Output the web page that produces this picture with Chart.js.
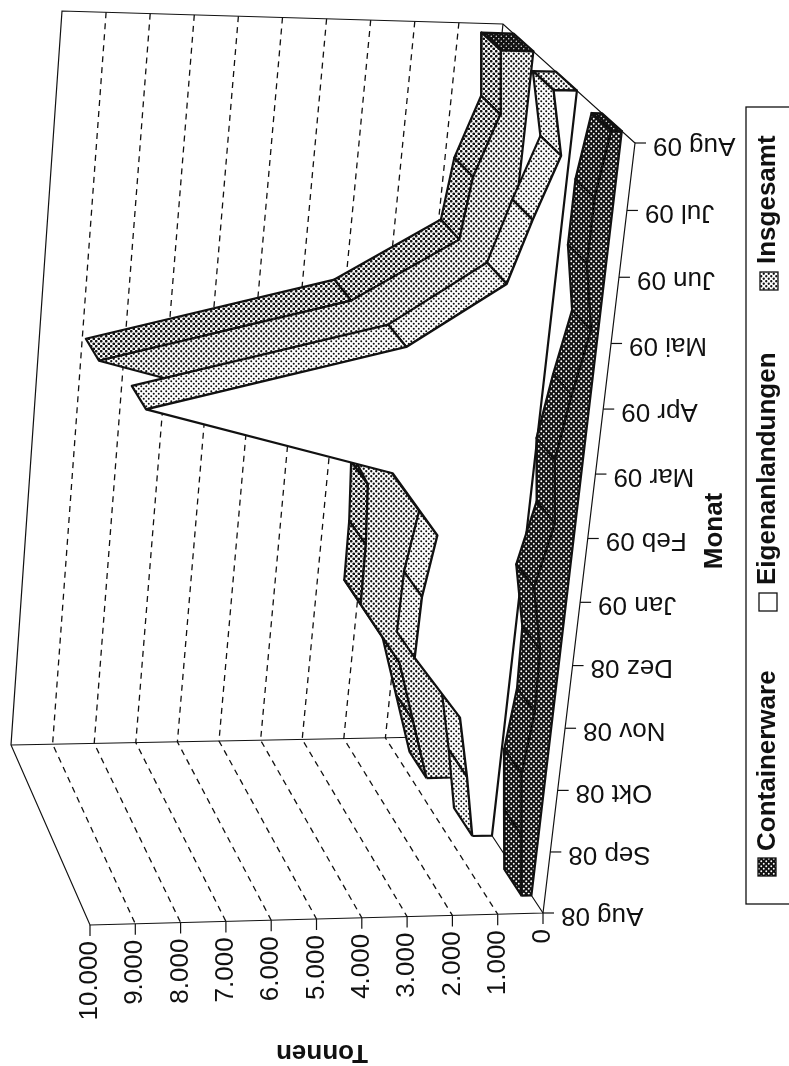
<!DOCTYPE html>
<html>
<head>
<meta charset="utf-8">
<style>
  html, body { margin: 0; padding: 0; background: #fff; }
  canvas { display: block; }
</style>
<script src="https://cdn.jsdelivr.net/npm/chart.js@4/dist/chart.umd.min.js"></script>
</head>
<body>
<canvas id="chart" width="789" height="1066"></canvas>
<script>
// --- data (tonnes per month) ---
const months = ['Aug 08', 'Sep 08', 'Okt 08', 'Nov 08', 'Dez 08', 'Jan 09', 'Feb 09', 'Mar 09', 'Apr 09', 'Mai 09', 'Jun 09', 'Jul 09', 'Aug 09'];
const containerware = [220, 380, 530, 400, 440, 730, 440, 600, 400, 150, 400, 400, 220];
const eigenanlandungen = [450, 720, 1030, 2200, 2180, 1980, 3120, 8700, 3100, 1050, 640, 180, 500];
const insgesamt = [640, 1100, 1560, 2600, 2620, 2710, 3560, 9100, 3500, 1200, 1040, 580, 720];
const valueTicks = [0, 1000, 2000, 3000, 4000, 5000, 6000, 7000, 8000, 9000, 10000];
const valueLabels = ['0', '1.000', '2.000', '3.000', '4.000', '5.000', '6.000', '7.000', '8.000', '9.000', '10.000'];
const legendLabels = ['Containerware', 'Eigenanlandungen', 'Insgesamt'];

// --- the tilted 3D box, as seen on the scanned page ---
const INK = '#111';
const VALUE_MAX = 10000;
const PERSPECTIVE = 1.056;
const corners = {
  m0v0d0: [543, 913], m0v1d0: [90, 925], m1v0d0: [635, 143], m1v1d0: [150, 134],
  m0v0d1: [427, 737], m0v1d1: [11, 745], m1v0d1: [503, 24], m1v1d1: [62, 11]
};
const DEPTH_CONT = [0.1, 0.25];
const DEPTH_EIG = [0.44, 0.6];
const DEPTH_INS = [0.77, 0.92];

function project(monthIdx, value, d) {
  const u = monthIdx / (months.length - 1);
  const m = u / (u + PERSPECTIVE * (1 - u));
  const v = value / VALUE_MAX;
  const out = { x: 0, y: 0 };
  [0, 1].forEach(a => [0, 1].forEach(b => [0, 1].forEach(c => {
    const w = (a ? m : 1 - m) * (b ? v : 1 - v) * (c ? d : 1 - d);
    const p = corners['m' + a + 'v' + b + 'd' + c];
    out.x += w * p[0];
    out.y += w * p[1];
  })));
  return out;
}

// halftone tiles like the printed shading
function halftone(bg, dot, r) {
  const c = document.createElement('canvas');
  c.width = 5; c.height = 5;
  const g = c.getContext('2d');
  g.fillStyle = bg;
  g.fillRect(0, 0, 5, 5);
  g.fillStyle = dot;
  [[1.25, 1.25], [3.75, 3.75], [-1.25, 3.75], [3.75, -1.25], [6.25, 3.75], [3.75, 6.25], [1.25, 6.25], [6.25, 1.25]].forEach(p => {
    g.beginPath();
    g.arc(p[0], p[1], r, 0, Math.PI * 2);
    g.fill();
  });
  return g.createPattern(c, 'repeat');
}
const DOT_DARK = halftone('#fff', '#111', 1.35);
const DOT_MID = halftone('#fff', '#111', 1.15);
const DOT_LIGHT = halftone('#fff', '#111', 1.0);
const DARK_FRONT = halftone('#111', '#fff', 1.05);
const DARK_TOP = halftone('#111', '#fff', 0.95);
const DARK_CAP = halftone('#111', '#fff', 0.7);

const datasets = [];

function addLine(points, style) {
  datasets.push(Object.assign({
    data: points, fill: false, borderColor: INK, borderWidth: 1.2,
    pointRadius: 0, tension: 0, clip: false, order: 1000 - datasets.length
  }, style));
}

function addFace(points, color, width) {
  addLine(points.concat([points[0]]), {
    fill: 'shape', backgroundColor: color, borderWidth: width, borderJoinStyle: 'round'
  });
}

// --- walls, floor edges, gridlines, ticks ---
const last = months.length - 1;
addLine([project(0, 0, 0), project(0, VALUE_MAX, 0), project(0, VALUE_MAX, 1), project(last, VALUE_MAX, 1), project(last, 0, 1), project(last, 0, 0), project(0, 0, 0)], {});
addLine([project(0, 0, 0), project(0, 0, 1), project(0, VALUE_MAX, 1)], {});
addLine([project(0, 0, 1), project(last, 0, 1)], {});

valueTicks.slice(1, -1).forEach(v => {
  addLine([project(last, v, 1), project(0, v, 1), project(0, v, 0)], { borderDash: [6, 5], borderWidth: 1.3 });
});

// --- one 3D area per series, far series first ---
function addSeries(values, depth, styles) {
  const [front, back] = depth;
  const floorFront = months.map((_, i) => project(i, 0, front));
  const topFront = values.map((v, i) => project(i, v, front));
  const topBack = values.map((v, i) => project(i, v, back));

  // end cap on the Aug 09 side
  addFace([topFront[last], topBack[last], project(last, 0, back), floorFront[last]], styles.cap, 2.2);

  // upper surface, only the pieces that face the viewer
  for (let i = last - 1; i >= 0; i--) {
    const a = topFront[i], b = topFront[i + 1], c = topBack[i + 1], e = topBack[i];
    const facing = (b.x - a.x) * (e.y - a.y) - (b.y - a.y) * (e.x - a.x);
    if (facing < 0) addFace([a, b, c, e], styles.top, 2.2);
  }

  // front wall down to the floor
  addFace(topFront.concat(floorFront.slice().reverse()), styles.front, 2.2);
}

addSeries(insgesamt, DEPTH_INS, { front: DOT_MID, top: DOT_DARK, cap: DARK_CAP });
addSeries(eigenanlandungen, DEPTH_EIG, { front: '#fff', top: DOT_LIGHT, cap: DOT_MID });
addSeries(containerware, DEPTH_CONT, { front: DARK_FRONT, top: DARK_TOP, cap: DARK_CAP });

// axis ticks go over the floor edge
months.forEach((_, i) => {
  const p = project(i, 0, 0);
  addLine([p, { x: p.x + 11, y: p.y }], {});
});
valueTicks.forEach(v => {
  const p = project(0, v, 0);
  addLine([p, { x: p.x, y: p.y + 11 }], {});
});

function rotatedText(ctx, text, x, y, angle, font, align) {
  ctx.save();
  ctx.translate(x, y);
  ctx.rotate(angle);
  ctx.font = font;
  ctx.fillStyle = INK;
  ctx.textAlign = align;
  ctx.textBaseline = 'middle';
  ctx.fillText(text, 0, 0);
  ctx.restore();
}

const labelsPlugin = {
  id: 'pageLabels',
  afterDraw(chart) {
    const ctx = chart.ctx;
    const sx = chart.scales.x, sy = chart.scales.y;
    const FONT = '26px "Liberation Sans", Arial, sans-serif';
    const BOLD = 'bold 26px "Liberation Sans", Arial, sans-serif';

    months.forEach((label, i) => {
      const p = project(i, 0, 0);
      rotatedText(ctx, label, sx.getPixelForValue(p.x) + 18, sy.getPixelForValue(p.y) + 2, Math.PI, FONT, 'right');
    });
    valueLabels.forEach((label, i) => {
      const p = project(0, valueTicks[i], 0);
      rotatedText(ctx, label, sx.getPixelForValue(p.x), sy.getPixelForValue(p.y) + 16, -Math.PI / 2, FONT, 'right');
    });
    rotatedText(ctx, 'Tonnen', 322, 1052, Math.PI, BOLD, 'center');
    rotatedText(ctx, 'Monat', 715, 531, -Math.PI / 2, BOLD, 'center');

    // legend box runs off the right page edge
    ctx.strokeStyle = INK;
    ctx.lineWidth = 1.3;
    ctx.strokeRect(746, 107, 60, 797);
    const swatches = [[758, 858, DARK_TOP], [759, 593, '#fff'], [760, 272, DOT_MID]];
    const textStart = [851, 585, 264];
    legendLabels.forEach((label, i) => {
      const [x, y, color] = swatches[i];
      ctx.fillStyle = color;
      ctx.fillRect(x, y, 18, 18);
      ctx.strokeRect(x, y, 18, 18);
      rotatedText(ctx, label, 768, textStart[i], -Math.PI / 2, BOLD, 'left');
    });
  }
};

new Chart(document.getElementById('chart'), {
  type: 'line',
  data: { datasets },
  options: {
    responsive: false,
    animation: false,
    events: [],
    layout: { padding: 0 },
    scales: {
      x: { type: 'linear', min: 0, max: 789, display: false },
      y: { type: 'linear', min: 0, max: 1066, reverse: true, display: false }
    },
    plugins: { legend: { display: false }, tooltip: { enabled: false } }
  },
  plugins: [labelsPlugin]
});
</script>
</body>
</html>
